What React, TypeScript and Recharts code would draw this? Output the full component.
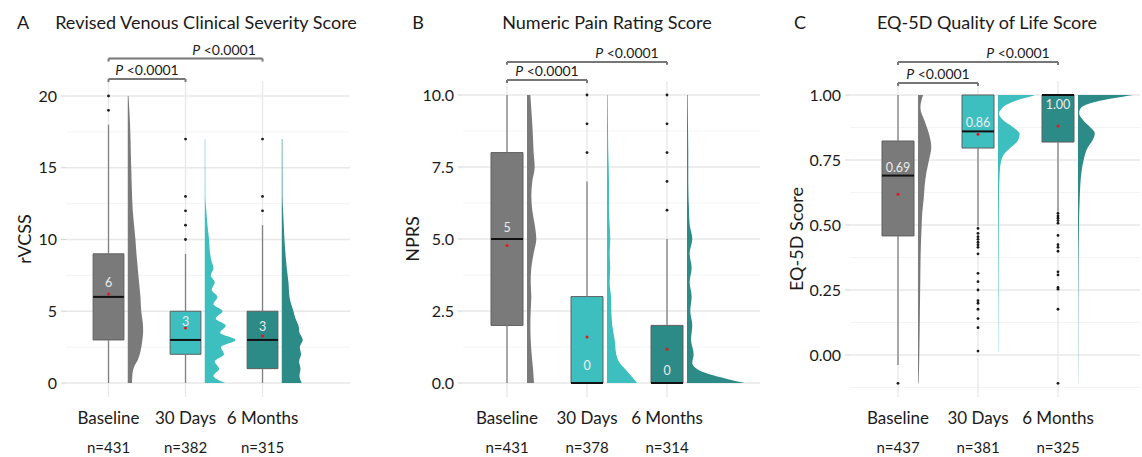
import React from "react";
import {
  ComposedChart,
  XAxis,
  YAxis,
  CartesianGrid,
  Area,
  Scatter,
  ReferenceArea,
  ReferenceLine,
  ReferenceDot,
} from "recharts";

// Groups shared by all three panels
const GROUPS = ["Baseline", "30 Days", "6 Months"];
const CATS = [1, 2, 3];
const COLORS = ["#7a7a7a", "#3dbfbf", "#2c8a87"];
const BRACKET_FROM = [1, 1];
const BRACKET_TO = [2, 3];
const BRACKET_LABEL_X = [1.5, 2.5];
const P_LABEL = "<0.0001";

// A – rVCSS
const rvcssN = [431, 382, 315];
const rvcssQ1 = [3, 2, 1];
const rvcssMedian = [6, 3, 3];
const rvcssQ3 = [9, 5, 5];
const rvcssLow = [0, 0, 0];
const rvcssHigh = [18, 9, 11];
const rvcssMean = [6.2, 3.83, 3.28];
const rvcssOutliers = [
  [19, 20],
  [10, 11, 12, 13, 17],
  [12, 13, 17],
];
// violin outlines: [value, half-width in category units]
const rvcssViolins = [
  [[0, 0.055], [0.6, 0.06], [1.1, 0.08], [1.6, 0.13], [2.2, 0.165], [3, 0.19], [3.6, 0.2], [4.2, 0.195], [5, 0.175], [6, 0.165], [7, 0.147], [8, 0.13], [9, 0.113], [10, 0.1], [12, 0.065], [14, 0.05], [16, 0.04], [18, 0.03], [20, 0.01]],
  [[0, 0.264], [0.5, 0.113], [1, 0.186], [1.5, 0.13], [2, 0.25], [2.5, 0.208], [3, 0.4], [3.5, 0.2], [4, 0.273], [4.5, 0.143], [5, 0.23], [5.5, 0.113], [6, 0.165], [6.5, 0.09], [7, 0.13], [7.5, 0.078], [8, 0.113], [8.5, 0.087], [9, 0.07], [10, 0.056], [11, 0.035], [12, 0.02], [12.5, 0.012], [13, 0.008], [17, 0.006]],
  [[0, 0.26], [0.5, 0.23], [1, 0.243], [1.5, 0.225], [2, 0.25], [2.5, 0.234], [3, 0.273], [3.5, 0.23], [4, 0.217], [4.5, 0.178], [5, 0.152], [6, 0.1], [7, 0.087], [8, 0.065], [9, 0.048], [10, 0.035], [11, 0.026], [12, 0.017], [13, 0.01], [17, 0.008]],
];
const rvcssTicks = [0, 5, 10, 15, 20];
const rvcssMinor = [2.5, 7.5, 12.5, 17.5];
const rvcssBracketY = [21.18, 22.61];

// B – NPRS
const nprsN = [431, 378, 314];
const nprsQ1 = [2, 0, 0];
const nprsMedian = [5, 0, 0];
const nprsQ3 = [8, 3, 2];
const nprsLow = [0, 0, 0];
const nprsHigh = [10, 7, 5];
const nprsMean = [4.77, 1.6, 1.17];
const nprsOutliers = [[], [8, 9, 10], [6, 7, 8, 9, 10]];
const nprsViolins = [
  [[0, 0.087], [0.5, 0.075], [1, 0.058], [1.5, 0.046], [2, 0.042], [2.5, 0.046], [3, 0.054], [3.5, 0.046], [4, 0.054], [4.5, 0.083], [5, 0.116], [5.5, 0.096], [6, 0.066], [6.5, 0.054], [7, 0.066], [7.5, 0.096], [8, 0.083], [8.5, 0.075], [9, 0.066], [9.5, 0.054], [10, 0.042]],
  [[0, 0.375], [0.25, 0.3], [0.5, 0.22], [0.7, 0.158], [1, 0.116], [1.5, 0.096], [2, 0.066], [2.5, 0.054], [3, 0.05], [3.5, 0.033], [4, 0.041], [4.5, 0.033], [5, 0.041], [5.5, 0.033], [6, 0.025], [7, 0.025], [8, 0.016], [9, 0.012], [10, 0.008]],
  [[0, 0.72], [0.15, 0.49], [0.3, 0.28], [0.5, 0.116], [0.7, 0.066], [1, 0.083], [1.5, 0.05], [2, 0.066], [2.5, 0.041], [3, 0.058], [3.5, 0.033], [4, 0.058], [4.5, 0.033], [5, 0.066], [5.5, 0.033], [6, 0.025], [7, 0.016], [8, 0.016], [9, 0.012], [10, 0.008]],
];
const nprsTicks = [0, 2.5, 5, 7.5, 10];
const nprsMinor = [1.25, 3.75, 6.25, 8.75];
const nprsBracketY = [10.52, 11.15];

// C – EQ-5D
const eqN = [437, 381, 325];
const eqQ1 = [0.458, 0.796, 0.819];
const eqMedian = [0.69, 0.86, 1.0];
const eqQ3 = [0.823, 1.0, 1.0];
const eqLow = [-0.038, 0.495, 0.551];
const eqHigh = [1.0, 1.0, 1.0];
const eqMean = [0.618, 0.849, 0.881];
const eqOutliers = [
  [-0.109],
  [0.487, 0.468, 0.455, 0.445, 0.434, 0.424, 0.414, 0.389, 0.314, 0.282, 0.25, 0.209, 0.199, 0.176, 0.14, 0.105, 0.015],
  [0.545, 0.535, 0.526, 0.517, 0.507, 0.46, 0.424, 0.414, 0.399, 0.32, 0.308, 0.26, 0.253, 0.176, -0.109],
];
const eqViolins = [
  [[-0.11, 0.005], [-0.1, 0.008], [0, 0.016], [0.1, 0.021], [0.2, 0.025], [0.3, 0.029], [0.4, 0.034], [0.5, 0.046], [0.55, 0.054], [0.6, 0.071], [0.65, 0.083], [0.7, 0.104], [0.75, 0.138], [0.8, 0.166], [0.85, 0.138], [0.9, 0.083], [0.95, 0.03], [1.0, 0.0625]],
  [[0.013, 0.003], [0.2, 0.005], [0.4, 0.008], [0.6, 0.012], [0.7, 0.021], [0.75, 0.042], [0.775, 0.083], [0.8, 0.167], [0.825, 0.25], [0.85, 0.27], [0.878, 0.18], [0.904, 0.0625], [0.93, 0.0125], [0.942, 0.033], [0.962, 0.104], [0.981, 0.25], [0.993, 0.396], [1.0, 0.46]],
  [[-0.11, 0.002], [0, 0.003], [0.2, 0.004], [0.3, 0.006], [0.4, 0.008], [0.5, 0.0125], [0.6, 0.021], [0.7, 0.042], [0.75, 0.071], [0.8, 0.125], [0.825, 0.18], [0.853, 0.21], [0.878, 0.146], [0.904, 0.0625], [0.93, 0.015], [0.942, 0.021], [0.962, 0.1], [0.974, 0.225], [0.987, 0.44], [1.0, 0.69]],
];
const eqTicks = [0, 0.25, 0.5, 0.75, 1.0];
const eqMinor = [-0.125, 0.125, 0.375, 0.625, 0.875];
const eqBracketY = [1.046, 1.127];

const BOX_HALF = 0.2;
const VIOLIN_GAP = 0.25;
const FONT = "Lato, 'Open Sans', sans-serif";

type PanelProps = {
  left: number;
  width: number;
  axisWidth: number;
  labelOffset: number;
  marginRight: number;
  yLabel: string;
  xDomain: [number, number];
  yDomain: [number, number];
  ticks: number[];
  minor: number[];
  fmt: (v: number) => string;
  medFmt: (v: number) => string;
  medDy: number[];
  n: number[];
  q1: number[];
  median: number[];
  q3: number[];
  low: number[];
  high: number[];
  mean: number[];
  outliers: number[][];
  violins: number[][][];
  bracketY: number[];
  tip: number;
};

function CategoryTick(props: any) {
  const { x, y, payload, n } = props;
  const i = Math.round(payload.value) - 1;
  return (
    <g>
      <text x={x} y={y + 27} textAnchor="middle" fontSize={17} fill="#1a1a1a">
        {GROUPS[i]}
      </text>
      <text x={x} y={y + 56} textAnchor="middle" fontSize={15} fill="#1a1a1a">
        n={n[i]}
      </text>
    </g>
  );
}

function Panel(p: PanelProps) {
  const outlierData = p.outliers.flatMap((vals, i) => vals.map((v) => ({ x: i + 1, y: v })));
  const meanData = p.mean.map((m, i) => ({ x: i + 1, y: m }));

  return (
    <div style={{ position: "absolute", left: p.left, top: 0 }}>
      <ComposedChart
        width={p.width}
        height={457}
        layout="vertical"
        margin={{ top: 81, right: p.marginRight, bottom: 0, left: 0 }}
      >
        {/* minor then major grid, both under the marks */}
        <CartesianGrid
          stroke="#f4f4f4"
          strokeWidth={1}
          vertical={false}
          horizontalValues={p.minor}
          syncWithTicks
        />
        <CartesianGrid
          stroke="#e8e8e8"
          strokeWidth={1.3}
          horizontalValues={p.ticks}
          verticalValues={CATS}
          syncWithTicks
        />
        <XAxis
          type="number"
          dataKey="x"
          domain={p.xDomain}
          allowDataOverflow
          ticks={CATS}
          interval={0}
          axisLine={false}
          tickLine={false}
          tickSize={0}
          tickMargin={0}
          height={60}
          tick={(tp: any) => <CategoryTick {...tp} n={p.n} />}
        />
        <YAxis
          type="number"
          dataKey="y"
          domain={p.yDomain}
          allowDataOverflow
          reversed
          ticks={p.ticks}
          interval={0}
          width={p.axisWidth}
          axisLine={false}
          tickLine={{ stroke: "#d4d4d4" }}
          tickSize={5}
          tickMargin={4}
          tickFormatter={p.fmt}
          tick={{ fontSize: 16, fill: "#1a1a1a" }}
          label={{
            value: p.yLabel,
            angle: -90,
            position: "insideLeft",
            offset: p.labelOffset,
            style: { textAnchor: "middle", fontSize: 18, fill: "#1a1a1a" },
          }}
        />

        {p.violins.map((pts, i) => (
          <Area
            key={"violin" + i}
            data={pts.map(([y, w]) => ({ y, v: [i + 1 + VIOLIN_GAP, i + 1 + VIOLIN_GAP + w] }))}
            dataKey="v"
            type="monotone"
            fill={COLORS[i]}
            fillOpacity={1}
            stroke="none"
            dot={false}
            activeDot={false}
            isAnimationActive={false}
          />
        ))}

        {GROUPS.map((_, i) =>
          p.high[i] > p.q3[i] ? (
            <ReferenceLine
              key={"wh" + i}
              segment={[{ x: i + 1, y: p.q3[i] }, { x: i + 1, y: p.high[i] }]}
              stroke="#808080"
              strokeWidth={1.3}
              ifOverflow="visible"
            />
          ) : null
        )}
        {GROUPS.map((_, i) =>
          p.low[i] < p.q1[i] ? (
            <ReferenceLine
              key={"wl" + i}
              segment={[{ x: i + 1, y: p.q1[i] }, { x: i + 1, y: p.low[i] }]}
              stroke="#808080"
              strokeWidth={1.3}
              ifOverflow="visible"
            />
          ) : null
        )}

        {GROUPS.map((_, i) => (
          <ReferenceArea
            key={"box" + i}
            x1={i + 1 - BOX_HALF}
            x2={i + 1 + BOX_HALF}
            y1={p.q1[i]}
            y2={p.q3[i]}
            fill={COLORS[i]}
            fillOpacity={1}
            stroke="#5f5f5f"
            strokeWidth={1}
            ifOverflow="visible"
          />
        ))}

        {GROUPS.map((_, i) => (
          <ReferenceLine
            key={"med" + i}
            segment={[{ x: i + 1 - BOX_HALF, y: p.median[i] }, { x: i + 1 + BOX_HALF, y: p.median[i] }]}
            stroke="#111"
            strokeWidth={2}
            ifOverflow="visible"
          />
        ))}

        <Scatter
          data={outlierData}
          isAnimationActive={false}
          shape={(s: any) => <circle cx={s.cx} cy={s.cy} r={1.4} fill="#1a1a1a" />}
        />
        <Scatter
          data={meanData}
          isAnimationActive={false}
          shape={(s: any) => <circle cx={s.cx} cy={s.cy} r={1.5} fill="#e8141b" />}
        />

        {GROUPS.map((_, i) => (
          <ReferenceDot
            key={"mlab" + i}
            x={i + 1}
            y={p.median[i]}
            ifOverflow="visible"
            shape={(s: any) => (
              <text
                x={s.cx}
                y={s.cy + p.medDy[i]}
                textAnchor="middle"
                fontSize={12.5}
                fill="#ececec"
              >
                {p.medFmt(p.median[i])}
              </text>
            )}
          />
        ))}

        {BRACKET_FROM.map((from, b) => {
          const to = BRACKET_TO[b];
          const y = p.bracketY[b];
          return (
            <React.Fragment key={"br" + b}>
              <ReferenceLine segment={[{ x: from, y }, { x: to, y }]} stroke="#777" strokeWidth={2} ifOverflow="visible" />
              <ReferenceLine segment={[{ x: from, y }, { x: from, y: y - p.tip }]} stroke="#777" strokeWidth={2} ifOverflow="visible" />
              <ReferenceLine segment={[{ x: to, y }, { x: to, y: y - p.tip }]} stroke="#777" strokeWidth={2} ifOverflow="visible" />
              <ReferenceDot
                x={BRACKET_LABEL_X[b]}
                y={y}
                ifOverflow="visible"
                shape={(s: any) => (
                  <text x={s.cx} y={s.cy - 4} textAnchor="middle" fontSize={14} fill="#1a1a1a">
                    <tspan fontStyle="italic">P</tspan>
                    <tspan> {P_LABEL}</tspan>
                  </text>
                )}
              />
            </React.Fragment>
          );
        })}
      </ComposedChart>
    </div>
  );
}

export default function App() {
  return (
    <div
      style={{
        position: "absolute",
        left: 0,
        top: 0,
        width: 1142,
        height: 457,
        background: "#fff",
        fontFamily: FONT,
        overflow: "hidden",
      }}
    >
      <Panel
        left={0}
        width={352}
        marginRight={2}
        axisWidth={66}
        labelOffset={25}
        yLabel="rVCSS"
        xDomain={[0.448, 4.136]}
        yDomain={[-0.976, 21.045]}
        ticks={rvcssTicks}
        minor={rvcssMinor}
        fmt={(v) => v.toFixed(0)}
        medFmt={(v) => v.toFixed(0)}
        medDy={[-10, -14, -9]}
        n={rvcssN}
        q1={rvcssQ1}
        median={rvcssMedian}
        q3={rvcssQ3}
        low={rvcssLow}
        high={rvcssHigh}
        mean={rvcssMean}
        outliers={rvcssOutliers}
        violins={rvcssViolins}
        bracketY={rvcssBracketY}
        tip={0.21}
      />
      <Panel
        left={360}
        width={400}
        marginRight={0}
        axisWidth={103}
        labelOffset={53}
        yLabel="NPRS"
        xDomain={[0.45, 4.1625]}
        yDomain={[-0.486, 10.486]}
        ticks={nprsTicks}
        minor={nprsMinor}
        fmt={(v) => v.toFixed(1)}
        medFmt={(v) => v.toFixed(0)}
        medDy={[-7, -13.5, -8.5]}
        n={nprsN}
        q1={nprsQ1}
        median={nprsMedian}
        q3={nprsQ3}
        low={nprsLow}
        high={nprsHigh}
        mean={nprsMean}
        outliers={nprsOutliers}
        violins={nprsViolins}
        bracketY={nprsBracketY}
        tip={0.104}
      />
      <Panel
        left={762}
        width={380}
        marginRight={2}
        axisWidth={88}
        labelOffset={35}
        yLabel="EQ-5D Score"
        xDomain={[0.4, 4.025]}
        yDomain={[-0.1615, 1.0538]}
        ticks={eqTicks}
        minor={eqMinor}
        fmt={(v) => v.toFixed(2)}
        medFmt={(v) => v.toFixed(2)}
        medDy={[-4, -4.5, 14]}
        n={eqN}
        q1={eqQ1}
        median={eqMedian}
        q3={eqQ3}
        low={eqLow}
        high={eqHigh}
        mean={eqMean}
        outliers={eqOutliers}
        violins={eqViolins}
        bracketY={eqBracketY}
        tip={0.0115}
      />
      <svg
        width={1142}
        height={457}
        style={{ position: "absolute", left: 0, top: 0, pointerEvents: "none" }}
      >
        <g fontSize={18} fill="#1a1a1a">
          <text x={23} y={29} textAnchor="middle">A</text>
          <text x={206} y={29} textAnchor="middle">Revised Venous Clinical Severity Score</text>
          <text x={418} y={29} textAnchor="middle">B</text>
          <text x={607} y={29} textAnchor="middle">Numeric Pain Rating Score</text>
          <text x={800} y={29} textAnchor="middle">C</text>
          <text x={987} y={29} textAnchor="middle">EQ-5D Quality of Life Score</text>
        </g>
      </svg>
    </div>
  );
}
